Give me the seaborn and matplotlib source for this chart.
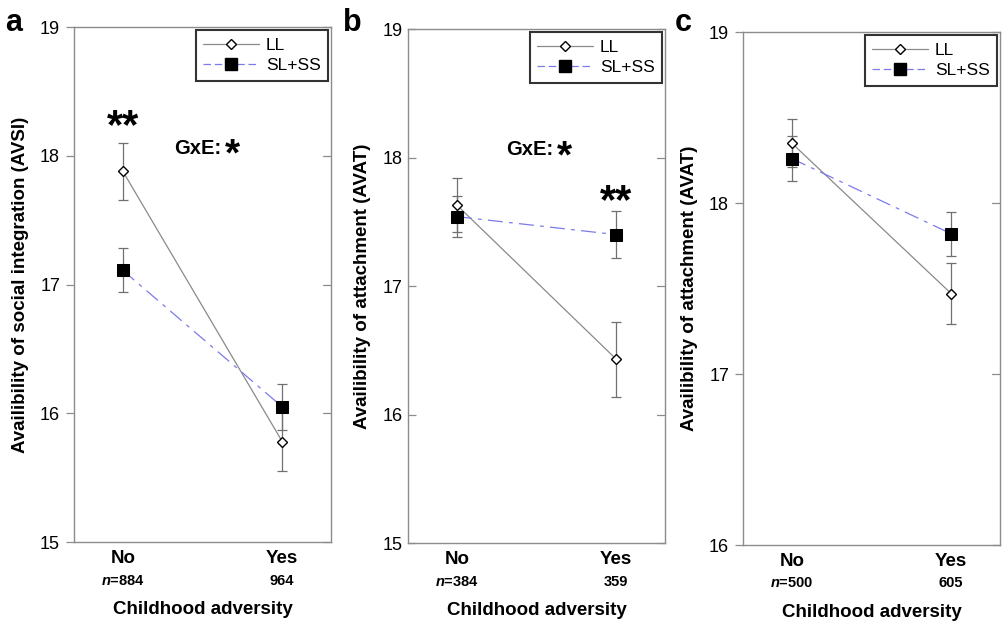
import numpy as np
import pandas as pd
import matplotlib
matplotlib.use("Agg")
import matplotlib.pyplot as plt
import matplotlib.transforms as mtransforms
import seaborn as sns

sns.set_style("white")
plt.rcParams['font.family'] = ['Liberation Sans', 'DejaVu Sans']
plt.rcParams['mathtext.fontset'] = 'custom'
plt.rcParams['mathtext.it'] = 'Liberation Sans:italic:bold'
plt.rcParams['mathtext.rm'] = 'Liberation Sans:bold'
plt.rcParams['text.color'] = 'black'
plt.rcParams['axes.labelcolor'] = 'black'
plt.rcParams['xtick.color'] = 'black'
plt.rcParams['ytick.color'] = 'black'

# data
adversity = ["No", "Yes"]
groups = ["LL", "SL+SS"]

a_ll = [17.88, 15.78]
a_ll_err = [0.22, 0.23]
a_ss = [17.11, 16.05]
a_ss_err = [0.17, 0.18]
a_n = ["884", "964"]

b_ll = [17.63, 16.43]
b_ll_err = [0.21, 0.29]
b_ss = [17.54, 17.40]
b_ss_err = [0.16, 0.18]
b_n = ["384", "359"]

c_ll = [18.35, 17.47]
c_ll_err = [0.14, 0.18]
c_ss = [18.26, 17.82]
c_ss_err = [0.13, 0.13]
c_n = ["500", "605"]

LL_COL = "#8a8a8a"
SS_COL = "#7b7bea"
SPINE = "#8c8c8c"

panels = [
    dict(letter="a", lx=0.0139, ll=a_ll, lle=a_ll_err, ss=a_ss, sse=a_ss_err, n=a_n,
         ylabel="Availibility of social integration (AVSI)", ylim=(15, 19),
         rect=[0.0734, 0.1314, 0.255, 0.8253], left_tick="out"),
    dict(letter="b", lx=0.350, ll=b_ll, lle=b_ll_err, ss=b_ss, sse=b_ss_err, n=b_n,
         ylabel="Availibility of attachment (AVAT)", ylim=(15, 19),
         rect=[0.4048, 0.1298, 0.255, 0.8237], left_tick="in"),
    dict(letter="c", lx=0.678, ll=c_ll, lle=c_ll_err, ss=c_ss, sse=c_ss_err, n=c_n,
         ylabel="Availibility of attachment (AVAT)", ylim=(16, 19),
         rect=[0.7371, 0.1266, 0.255, 0.8221], left_tick="out"),
]

fig = plt.figure(figsize=(10.08, 6.24), dpi=100)

for p in panels:
    ax = fig.add_axes(p["rect"])
    df = pd.DataFrame({
        "x": [0, 1, 0, 1],
        "y": p["ll"] + p["ss"],
        "err": p["lle"] + p["sse"],
        "group": [groups[0]] * 2 + [groups[1]] * 2,
    })

    # error bars first so the markers sit on top
    for g in groups:
        d = df[df.group == g]
        ax.errorbar(d.x, d.y, yerr=d.err, fmt="none", ecolor="#707070",
                    elinewidth=0.9, capsize=3.5, capthick=0.9, zorder=2)

    sns.lineplot(data=df, x="x", y="y", hue="group", style="group", ax=ax,
                 palette={"LL": LL_COL, "SL+SS": SS_COL},
                 markers={"LL": "D", "SL+SS": "s"},
                 dashes={"LL": "", "SL+SS": (12, 5, 3, 5)},
                 linewidth=0.9, legend=False, zorder=3)
    # marker styling
    for line, g in zip(ax.lines[-2:], groups):
        if g == "LL":
            line.set_markersize(5.5)
            line.set_markerfacecolor("white")
            line.set_markeredgecolor("black")
            line.set_markeredgewidth(1.0)
        else:
            line.set_markersize(8.5)
            line.set_markerfacecolor("black")
            line.set_markeredgecolor("black")

    # legend
    h_ll = plt.Line2D([], [], color=LL_COL, lw=0.9, marker="D", ms=5.5,
                      mfc="white", mec="black", mew=1.0)
    h_ss = plt.Line2D([], [], color=SS_COL, lw=0.9, ls=(0, (6, 3)), marker="s",
                      ms=8, mfc="black", mec="black")
    leg = ax.legend([h_ll, h_ss], groups, loc="upper right", fontsize=12.5,
                    frameon=True, fancybox=False, borderpad=0.45,
                    handlelength=3.2, borderaxespad=0.15, labelspacing=0.3,
                    handletextpad=0.4)
    leg.get_frame().set_edgecolor("black")
    leg.get_frame().set_linewidth(1.5)

    ax.set_xlim(-0.306, 1.306)
    ax.set_ylim(*p["ylim"])
    ax.set_yticks(np.arange(p["ylim"][0], p["ylim"][1] + 1))
    ax.set_xticks([0, 1])
    ax.set_xticklabels(adversity, fontsize=13.5, fontweight="bold")
    ax.tick_params(axis="x", bottom=False, length=0, pad=6)
    ax.tick_params(axis="y", left=True, direction=p["left_tick"], length=6,
                   labelsize=13, width=0.9, color=SPINE, labelcolor="black",
                   pad=4)
    ax.set_xlabel("Childhood adversity", fontsize=13.5, fontweight="bold",
                  labelpad=24)
    ax.set_ylabel(p["ylabel"], fontsize=13.5, fontweight="bold", labelpad=8)
    for s in ax.spines.values():
        s.set_color(SPINE)
        s.set_linewidth(1.0)
    # right side ticks, inward
    tr = mtransforms.blended_transform_factory(ax.transAxes, ax.transData)
    for yv in ax.get_yticks():
        ax.plot([1.0, 0.97], [yv, yv], color=SPINE, lw=0.9, transform=tr,
                clip_on=False)

    # sample sizes under the x labels
    trans = mtransforms.blended_transform_factory(ax.transData, ax.transAxes)
    ax.text(0, -0.075, r"$\it{n}$=" + p["n"][0], transform=trans, ha="center",
            va="center", fontsize=10.5, fontweight="bold")
    ax.text(1, -0.075, p["n"][1], transform=trans, ha="center", va="center",
            fontsize=10.5, fontweight="bold")

    # panel letter
    fig.text(p["lx"], 0.963, p["letter"], fontsize=22,
             fontweight="bold", ha="center", va="center")

axes = fig.axes
axes[0].text(0, 18.22, "**", ha="center", va="center", fontsize=30,
             fontweight="bold")
axes[0].text(0.47, 18.06, "GxE:", ha="center", va="center", fontsize=14.5,
             fontweight="bold")
axes[0].text(0.685, 18.0, "*", ha="center", va="center", fontsize=28,
             fontweight="bold")
axes[1].text(0.46, 18.06, "GxE:", ha="center", va="center", fontsize=14.5,
             fontweight="bold")
axes[1].text(0.674, 18.0, "*", ha="center", va="center", fontsize=28,
             fontweight="bold")
axes[1].text(1, 17.65, "**", ha="center", va="center", fontsize=30,
             fontweight="bold")

fig.savefig("out.png", dpi=100)
